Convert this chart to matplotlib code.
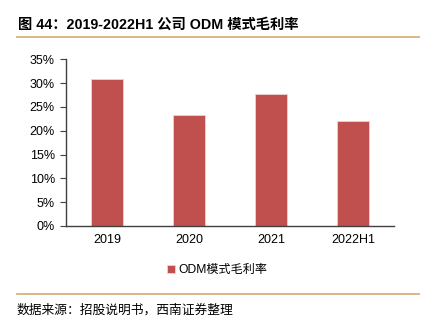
import matplotlib.pyplot as plt
from matplotlib.lines import Line2D
from matplotlib.ticker import FuncFormatter

# Data
categories = ['2019', '2020', '2021', '2022H1']
odm_margin = [30.8, 23.3, 27.6, 22.0]
y_ticks = [0, 5, 10, 15, 20, 25, 30, 35]

bar_color = '#C0504D'
rule_color = '#D6B27E'

plt.rcParams['font.family'] = ['Liberation Sans', 'Noto Sans CJK SC', 'DejaVu Sans']

fig = plt.figure(figsize=(4.22, 3.28), dpi=100)
ax = fig.add_axes([0.1564, 0.311, 0.7772, 0.5085])

x = range(len(categories))
ax.bar(x, odm_margin, width=0.4, color=bar_color, edgecolor='#F2D0CF',
       linewidth=0.6, label='ODM模式毛利率')

ax.set_xlim(-0.5, len(categories) - 0.5)
ax.set_ylim(0, 35)
ax.set_yticks(y_ticks)
ax.yaxis.set_major_formatter(FuncFormatter(lambda v, p: f'{v:.0f}%'))
ax.set_xticks(list(x))
ax.set_xticklabels(categories)

for side in ['top', 'right']:
    ax.spines[side].set_visible(False)
for side in ['left', 'bottom']:
    ax.spines[side].set_color('#404040')
    ax.spines[side].set_linewidth(1.0)
ax.tick_params(axis='y', direction='out', length=4, width=0.8, color='#404040',
               labelsize=9, pad=4)
ax.tick_params(axis='x', length=0, labelsize=9, pad=6)

# Legend below the chart
fig.legend(loc='center', bbox_to_anchor=(0.515, 0.177), frameon=False,
           fontsize=8.7, handlelength=0.6, handleheight=0.6, handletextpad=0.3)

# Title and rules
fig.text(0.043, 0.924, '图 44：2019-2022H1 公司 ODM 模式毛利率', fontsize=10.3,
         fontweight='bold', va='center', ha='left')
fig.add_artist(Line2D([0.04, 0.993], [0.887, 0.887], transform=fig.transFigure,
                      color=rule_color, linewidth=1.3))
fig.add_artist(Line2D([0.04, 0.993], [0.104, 0.104], transform=fig.transFigure,
                      color=rule_color, linewidth=1.3))

# Source note
fig.text(0.04, 0.055, '数据来源：招股说明书，西南证券整理', fontsize=9.2,
         style='italic', va='center', ha='left')

fig.savefig('out.png', dpi=100)
